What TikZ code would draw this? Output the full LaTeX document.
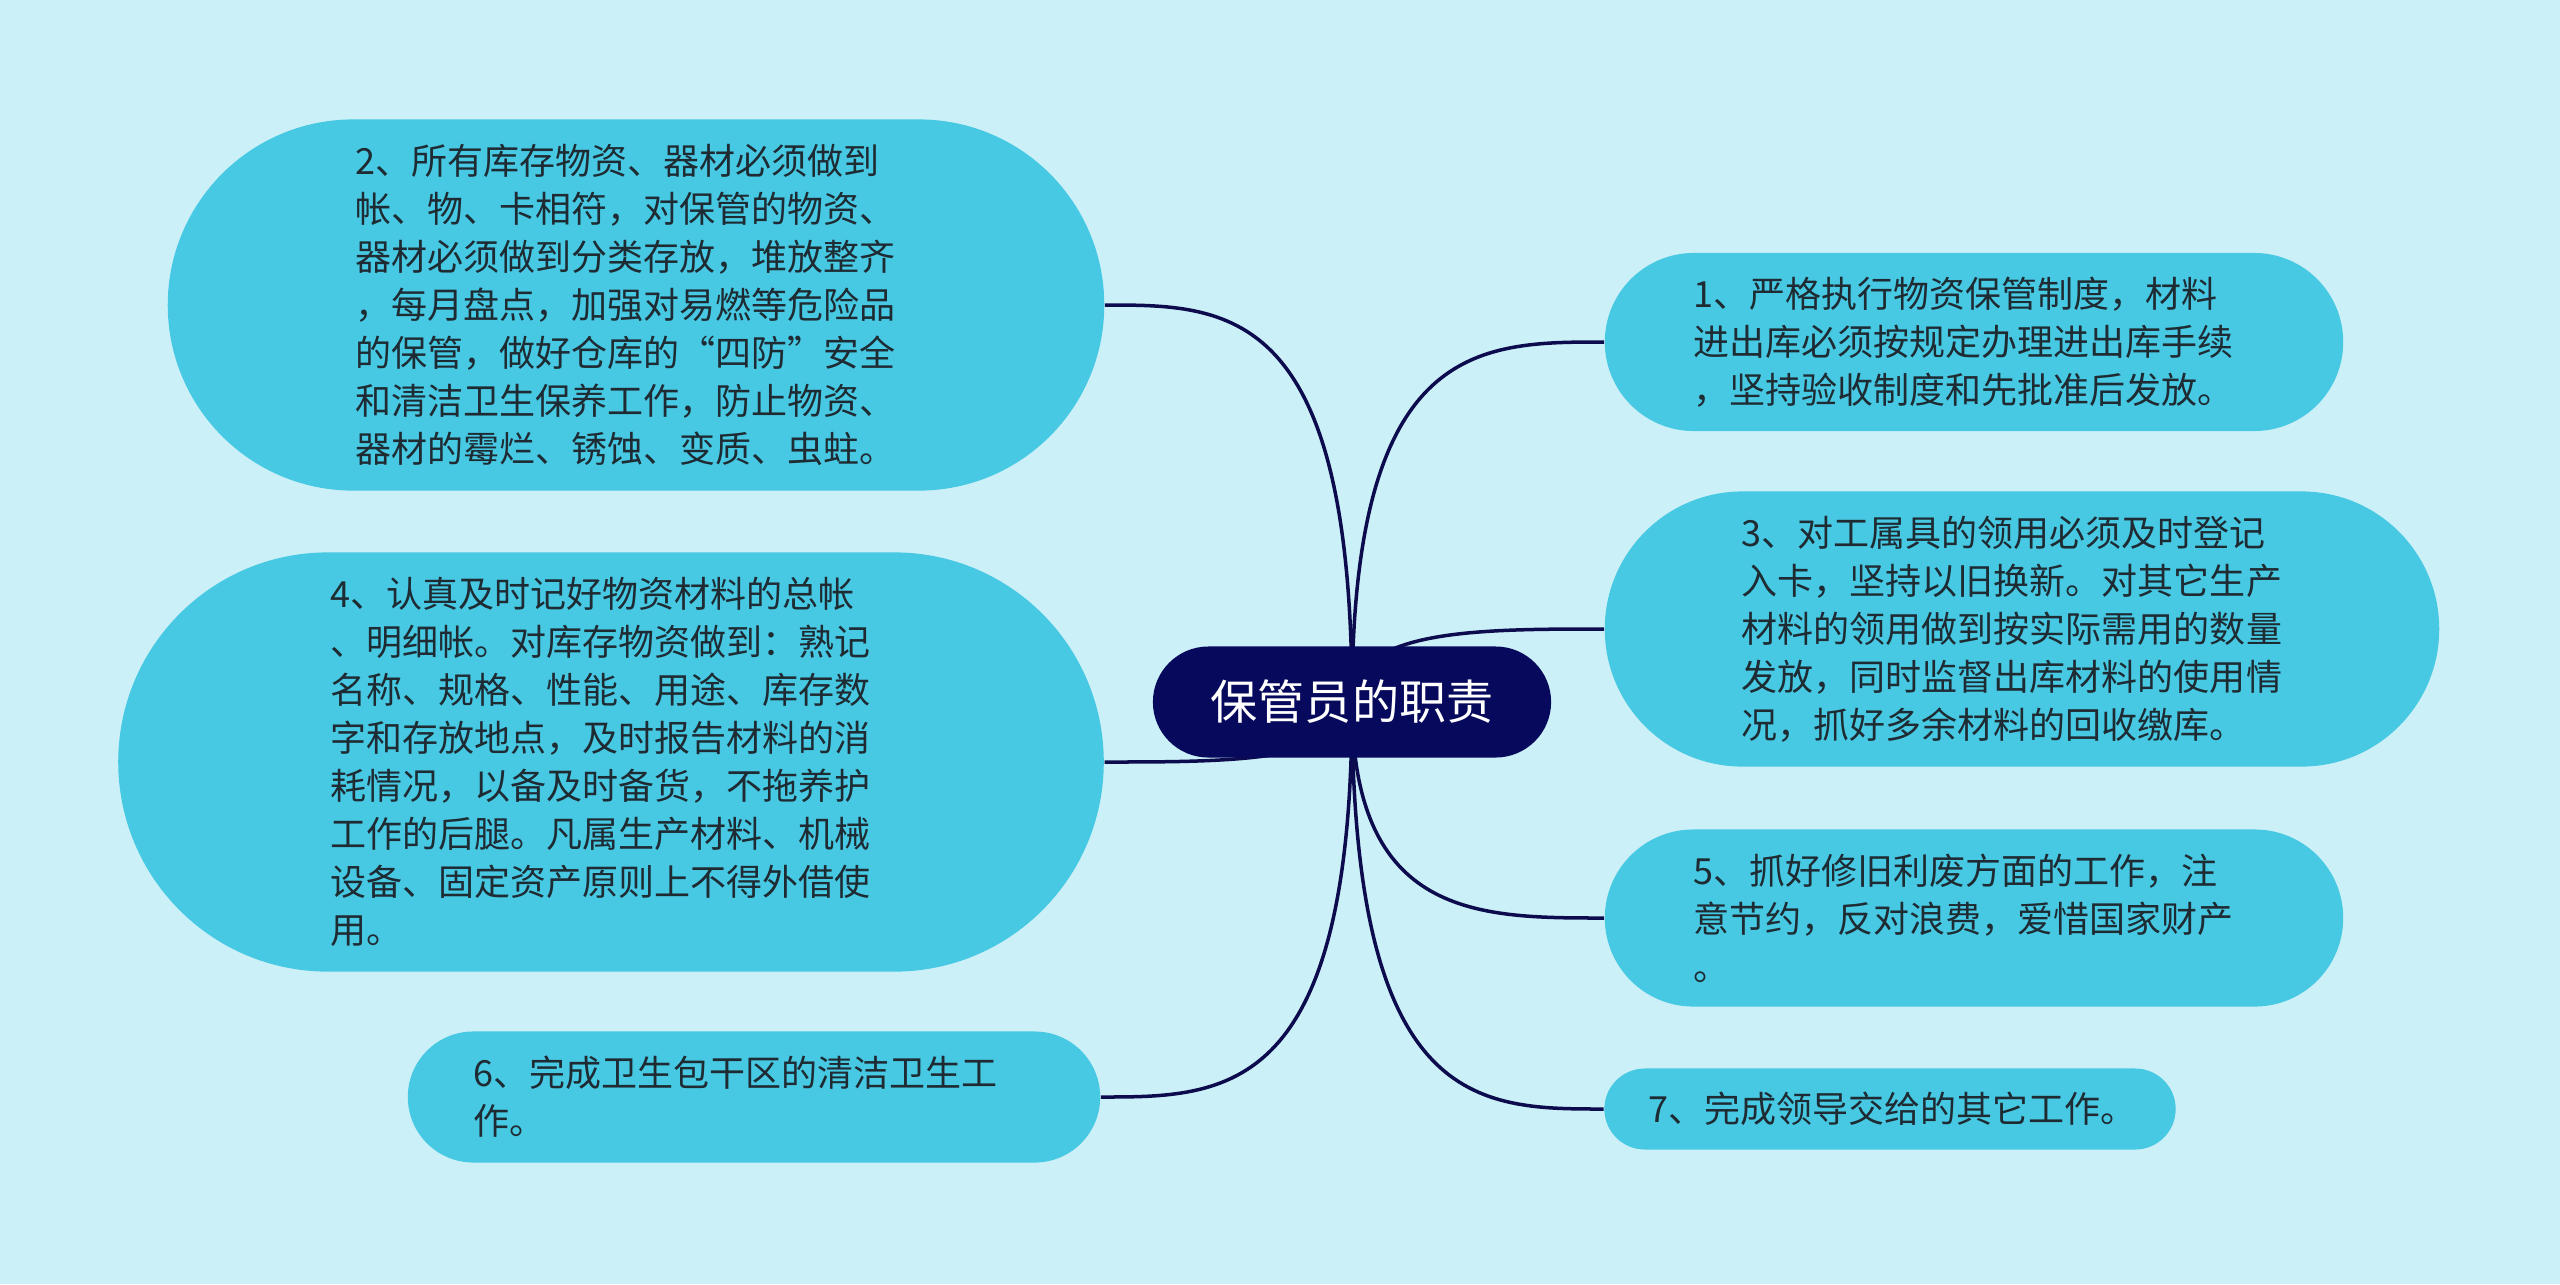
\documentclass[tikz,border=0pt]{standalone}
\usepackage{fontspec}
\setmainfont{Noto Sans CJK SC}
\usetikzlibrary{calc}

\definecolor{canvas}{HTML}{CCF0F7}
\definecolor{leafblue}{HTML}{48C9E3}
\definecolor{rootnavy}{HTML}{070A5C}
\definecolor{linknavy}{HTML}{0B0B4E}
\definecolor{inkgray}{HTML}{1E2B33}

\pgfdeclarelayer{bg}
\pgfdeclarelayer{links}
\pgfsetlayers{bg,links,main}

\begin{document}
\begin{tikzpicture}[x=0.01cm, y=-0.01cm,
    leaf/.style={fill=leafblue, text=inkgray, align=left, inner sep=0pt, text width=5.6cm,
        font=\fontsize{10.24}{13.66}\selectfont},
    rootbox/.style={fill=rootnavy, text=white, inner sep=0pt,
        minimum width=3.98cm, minimum height=1.11cm, rounded corners=0.555cm,
        font=\fontsize{13.4}{16}\selectfont},
    link/.style={draw=linknavy, line width=0.035cm}]
            \useasboundingbox (0,0) rectangle (2560,1284);
            \begin{pgfonlayer}{bg}
                \fill[canvas] (0,0) rectangle (2560,1284);
            \end{pgfonlayer}

            \node[rootbox] (duty) at (1352,702) {保管员的职责};

            \node[leaf, minimum width=7.38cm, minimum height=1.78cm, rounded corners=0.89cm] (d1) at (1974,342)
                {1、严格执行物资保管制度，材料\\进出库必须按规定办理进出库手续\\，坚持验收制度和先批准后发放。};
            \node[leaf, minimum width=9.36cm, minimum height=3.71cm, rounded corners=1.855cm] (d2) at (636,305)
                {2、所有库存物资、器材必须做到\\帐、物、卡相符，对保管的物资、\\器材必须做到分类存放，堆放整齐\\，每月盘点，加强对易燃等危险品\\的保管，做好仓库的“四防”安全\\和清洁卫生保养工作，防止物资、\\器材的霉烂、锈蚀、变质、虫蛀。};
            \node[leaf, minimum width=8.34cm, minimum height=2.75cm, rounded corners=1.375cm] (d3) at (2022,629)
                {3、对工属具的领用必须及时登记\\入卡，坚持以旧换新。对其它生产\\材料的领用做到按实际需用的数量\\发放，同时监督出库材料的使用情\\况，抓好多余材料的回收缴库。};
            \node[leaf, minimum width=9.85cm, minimum height=4.19cm, rounded corners=2.095cm] (d4) at (611,762)
                {4、认真及时记好物资材料的总帐\\、明细帐。对库存物资做到：熟记\\名称、规格、性能、用途、库存数\\字和存放地点，及时报告材料的消\\耗情况，以备及时备货，不拖养护\\工作的后腿。凡属生产材料、机械\\设备、固定资产原则上不得外借使\\用。};
            \node[leaf, minimum width=7.38cm, minimum height=1.77cm, rounded corners=0.885cm] (d5) at (1974,918)
                {5、抓好修旧利废方面的工作，注\\意节约，反对浪费，爱惜国家财产\\。};
            \node[leaf, minimum width=6.92cm, minimum height=1.31cm, rounded corners=0.655cm] (d6) at (754,1097)
                {6、完成卫生包干区的清洁卫生工\\作。};
            \node[leaf, text width=4.82cm, minimum width=5.71cm, minimum height=0.81cm, rounded corners=0.405cm] (d7) at (1890,1109)
                {7、完成领导交给的其它工作。};

            \begin{pgfonlayer}{links}
                \draw[link] (duty.center) .. controls (duty.center |- d1.west) and ($(d1.west)!0.5!(duty.center |- d1.west)$) .. (d1.west);
                \draw[link] (duty.center) .. controls (duty.center |- d2.east) and ($(d2.east)!0.5!(duty.center |- d2.east)$) .. (d2.east);
                \draw[link] (duty.center) .. controls (duty.center |- d3.west) and ($(d3.west)!0.5!(duty.center |- d3.west)$) .. (d3.west);
                \draw[link] (duty.center) .. controls (duty.center |- d4.east) and ($(d4.east)!0.5!(duty.center |- d4.east)$) .. (d4.east);
                \draw[link] (duty.center) .. controls (duty.center |- d5.west) and ($(d5.west)!0.5!(duty.center |- d5.west)$) .. (d5.west);
                \draw[link] (duty.center) .. controls (duty.center |- d6.east) and ($(d6.east)!0.5!(duty.center |- d6.east)$) .. (d6.east);
                \draw[link] (duty.center) .. controls (duty.center |- d7.west) and ($(d7.west)!0.5!(duty.center |- d7.west)$) .. (d7.west);
            \end{pgfonlayer}
        \end{tikzpicture}
\end{document}
